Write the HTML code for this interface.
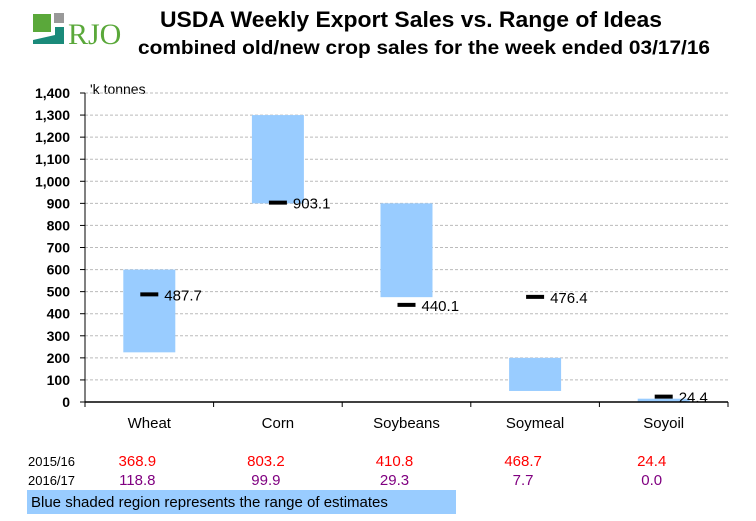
<!DOCTYPE html>
<html><head><meta charset="utf-8"><style>
body{margin:0;background:#fff;font-family:"Liberation Sans",Arial,sans-serif}
</style></head><body>
<svg id="c" width="756" height="516" xmlns="http://www.w3.org/2000/svg" font-family="Liberation Sans, Arial, sans-serif">
<g>
<rect x="33" y="14" width="18" height="18" fill="#5aa83a"/>
<rect x="54" y="13" width="10" height="10" fill="#999"/>
<polygon points="33,44 64,44 64,27 55,27 55,35 33,40" fill="#1a8a7a"/>
<text x="68" y="44" style="font-family:'Liberation Serif',serif" font-size="30" fill="#5aa83a">RJO</text>
</g>
<text x="160" y="27" textLength="502" lengthAdjust="spacingAndGlyphs" font-size="22" font-weight="bold">USDA Weekly Export Sales vs. Range of Ideas</text>
<text x="138" y="54" textLength="572" lengthAdjust="spacingAndGlyphs" font-size="19" font-weight="bold">combined old/new crop sales for the week ended 03/17/16</text>
<text x="90" y="94" font-size="14">'k tonnes</text>
<g id="grid"></g><g id="bars"></g><g id="axes"></g>
<rect x="27" y="490" width="429" height="24" fill="#99ccff"/>
<text x="31" y="507" font-size="15">Blue shaded region represents the range of estimates</text>
</svg>
<script>
const categories=["Wheat","Corn","Soybeans","Soymeal","Soyoil"];
const rangeLow=[225,900,475,50,0];
const rangeHigh=[600,1300,900,200,15];
const actual=[487.7,903.1,440.1,476.4,24.4];
const oldCrop=["368.9","803.2","410.8","468.7","24.4"];
const newCrop=["118.8","99.9","29.3","7.7","0.0"];
const yTicks=[0,100,200,300,400,500,600,700,800,900,1000,1100,1200,1300,1400];
const NS="http://www.w3.org/2000/svg";
const x0=85,x1=728,yb=402,yt=93,ymax=1400;
const bw=(x1-x0)/categories.length;
const Y=v=>yb-(v/ymax)*(yb-yt);
const X=i=>x0+bw*(i+0.5);
function mk(t,a,p){const e=document.createElementNS(NS,t);for(const k in a)e.setAttribute(k,a[k]);(p||document.getElementById('c')).appendChild(e);return e;}
const grid=document.getElementById('grid'),bars=document.getElementById('bars'),axes=document.getElementById('axes');
yTicks.forEach(v=>{
 if(v>0){const l=mk('line',{x1:x0,x2:x1,y1:Y(v),y2:Y(v),stroke:'#bbb','stroke-dasharray':'3,2'},grid);
 
 }
 const t=mk('text',{x:70,y:Y(v)+5,'text-anchor':'end','font-size':14,'font-weight':'bold'},axes);t.textContent=v.toLocaleString('en-US');
 
 
 const tk=mk('line',{x1:x0-5,x2:x0,y1:Y(v),y2:Y(v),stroke:'#000'},axes);
 
 
});
const ya=mk('line',{x1:x0,x2:x0,y1:yt,y2:yb,stroke:'#000'},axes);


const xa=mk('line',{x1:x0,x2:x1,y1:yb,y2:yb,stroke:'#000','stroke-width':1.5},axes);


for(let i=0;i<=categories.length;i++){const t=mk('line',{x1:x0+bw*i,x2:x0+bw*i,y1:yb,y2:yb+5,stroke:'#000'},axes);
 
 }
const r1=mk('text',{x:28,y:466,'font-size':13});r1.textContent='2015/16';


const r2=mk('text',{x:28,y:485,'font-size':13});r2.textContent='2016/17';


categories.forEach((c,i)=>{
 const cx=X(i);
 const b=mk('rect',{x:cx-26,y:Y(rangeHigh[i]),width:52,height:Y(rangeLow[i])-Y(rangeHigh[i]),fill:'#99ccff'},bars);
 
 
 const m=mk('line',{x1:cx-9,x2:cx+9,y1:Y(actual[i]),y2:Y(actual[i]),stroke:'#000','stroke-width':4},bars);
 
 
 const l=mk('text',{x:cx+15,y:Y(actual[i])+6,'font-size':15},bars);l.textContent=actual[i].toFixed(1);
 
 
 const cl=mk('text',{x:cx,y:428,'text-anchor':'middle','font-size':15},axes);cl.textContent=c;
 
 
 const o=mk('text',{x:cx-12,y:466,'text-anchor':'middle','font-size':15,fill:'#ff0000'});o.textContent=oldCrop[i];
 
 
 const n=mk('text',{x:cx-12,y:485,'text-anchor':'middle','font-size':15,fill:'#800080'});n.textContent=newCrop[i];
 
 
});
</script>
</body></html>
